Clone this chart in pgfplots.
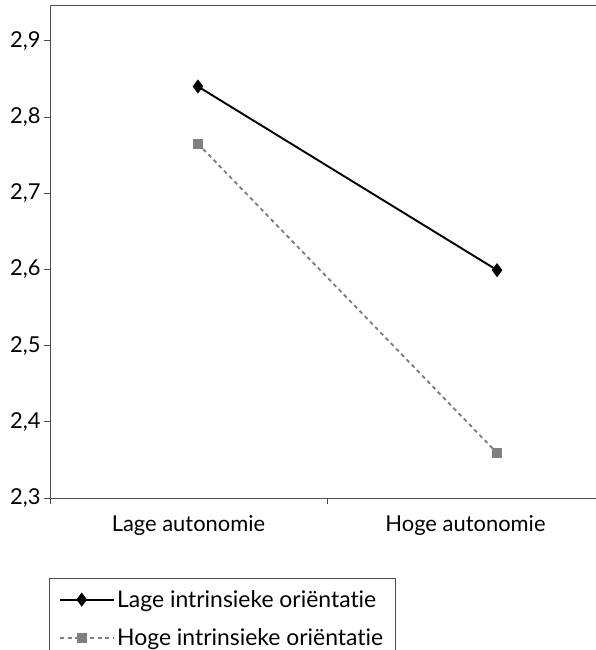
\documentclass[border=0pt]{standalone}
\usepackage{fontspec}
\setmainfont{Lato}[Ligatures=NoCommon]
\usepackage{pgfplots}
\pgfplotsset{compat=1.18}
\definecolor{sgray}{HTML}{808080}
\begin{document}
\begin{tikzpicture}
\clip (-50bp,-152bp) rectangle (546bp,498bp);
\begin{axis}[
  scale only axis, width=554bp, height=492.3bp,
  xmin=0, xmax=2, ymin=2.3, ymax=2.946,
  axis line style={color=black!70, line width=0.9bp},
  tick style={color=black!70, line width=0.8bp},
  tick align=outside, major tick length=6bp,
  xtick pos=bottom, ytick pos=left,
  xtick={0,1,2}, xticklabels={},
  extra x ticks={0.5,1.5},
  extra x tick labels={Lage autonomie, Hoge autonomie},
  extra x tick style={major tick length=0pt},
  ytick={2.3,2.4,2.5,2.6,2.7,2.8,2.9},
  /pgf/number format/.cd, use comma, fixed, fixed zerofill, precision=1, assume math mode=true,
  /pgfplots/.cd,
  ticklabel style={font=\fontsize{22}{26}\selectfont},
  xticklabel style={yshift=-14bp},
  legend style={at={(rel axis cs:-0.002,-0.1625)}, anchor=north west,
    draw=black!70, line width=0.8bp, inner xsep=10bp, inner ysep=10bp,
    font=\fontsize{23}{27}\selectfont, row sep=16bp,
    cells={anchor=west}},
  legend image code/.code={\path (0bp,0bp) -- (54bp,0bp);\draw[mark repeat=2,mark phase=2,#1] plot coordinates {(0bp,0bp) (21.5bp,0bp) (43bp,0bp)};},
]
\addplot[black, line width=1.9bp, mark=diamond*, mark size=5.5bp, mark options={solid, fill=black}]
  coordinates {(0.534,2.840) (1.614,2.599)};
\addlegendentry{Lage intrinsieke oriëntatie\hspace{14bp}}
\addplot[sgray, line width=1.9bp, dash pattern=on 4bp off 3.5bp, mark=square*, mark size=4bp, mark options={solid, fill=sgray, draw=sgray}]
  coordinates {(0.534,2.765) (1.614,2.359)};
\addlegendentry{Hoge intrinsieke oriëntatie\hspace{14bp}}
\end{axis}
\end{tikzpicture}
\end{document}
